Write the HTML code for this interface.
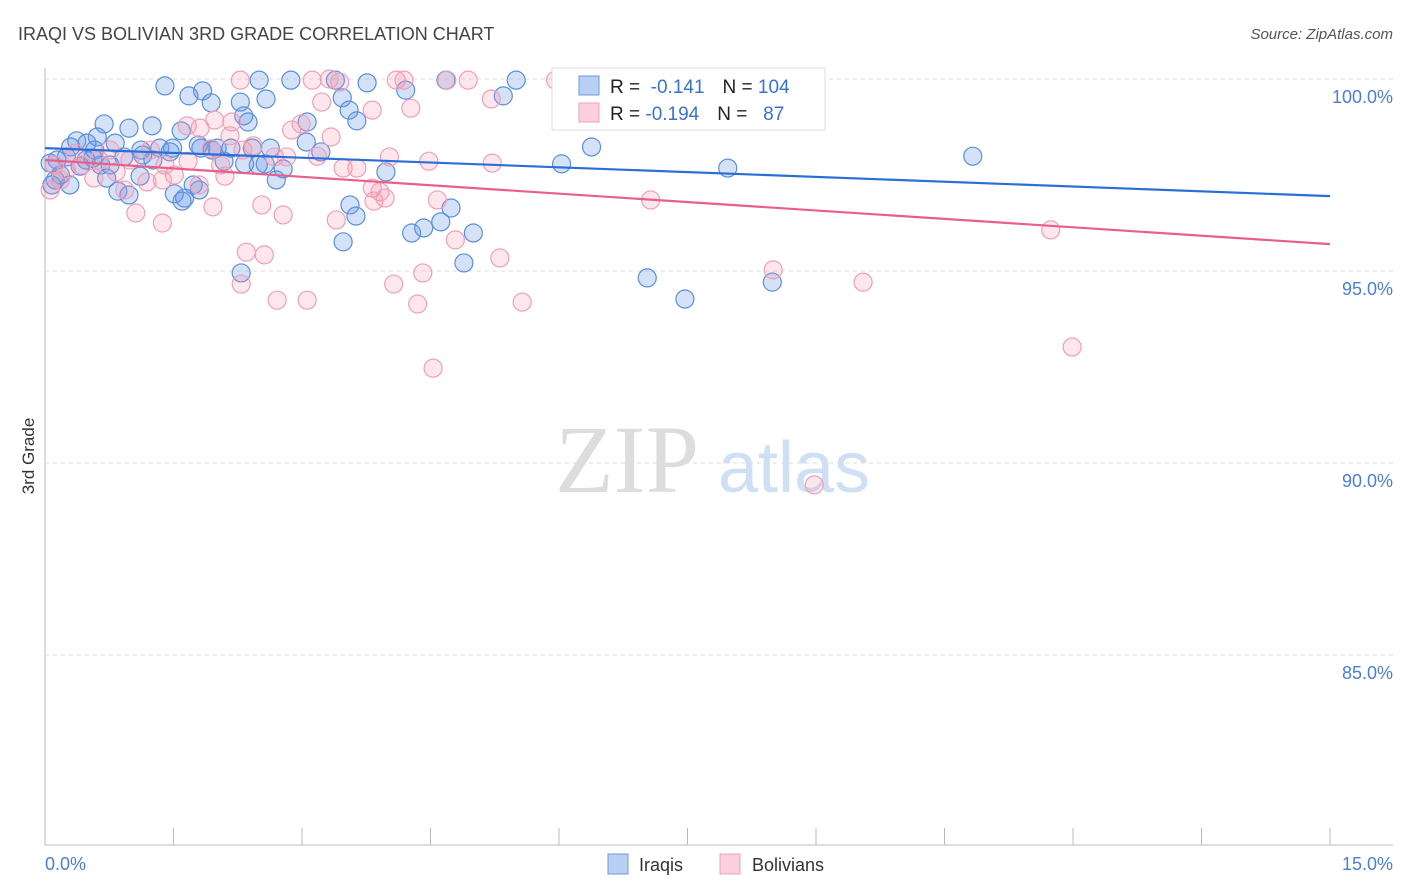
<!DOCTYPE html>
<html><head><meta charset="utf-8"><style>
body{margin:0;background:#fff;font-family:"Liberation Sans",sans-serif}
svg{display:block}
</style></head><body>
<svg id="c" width="1406" height="892" viewBox="0 0 1406 892">
<text x="18" y="40" font-size="18" fill="#444">IRAQI VS BOLIVIAN 3RD GRADE CORRELATION CHART</text>
<text x="1393" y="39" font-size="15" fill="#555" font-style="italic" text-anchor="end">Source: ZipAtlas.com</text>
<text x="555" y="492" font-size="96" fill="#ddd" font-family="Liberation Serif, serif">ZIP</text>
<text x="718" y="492" font-size="72" fill="#cfe0f5">atlas</text>
<text x="34" y="456" font-size="17" fill="#333" transform="rotate(-90 34 456)" text-anchor="middle">3rd Grade</text>
<g id="grid"></g><g id="pts"></g><g id="lines"></g>
<g>
<rect x="552" y="68" width="273" height="62" fill="#fff" stroke="#ddd"/>
<rect x="579" y="76" width="20" height="19" fill="rgba(100,150,230,0.45)" stroke="#6a9ae0"/>
<rect x="579" y="103" width="20" height="19" fill="rgba(245,150,180,0.45)" stroke="#f0a0b8"/>
<text x="610" y="93" font-size="19" fill="#222">R = <tspan fill="#3a72d0">&#160;-0.141</tspan><tspan dx="18">N = </tspan><tspan fill="#3a72d0">104</tspan></text>
<text x="610" y="120" font-size="19" fill="#222">R = <tspan fill="#3a72d0">-0.194</tspan><tspan dx="18">N = </tspan><tspan fill="#3a72d0">&#160;&#160;87</tspan></text>
</g>
<g>
<rect x="608" y="854" width="20" height="20" fill="rgba(100,150,230,0.45)" stroke="#6a9ae0"/>
<text x="639" y="871" font-size="18" fill="#333">Iraqis</text>
<rect x="720" y="854" width="20" height="20" fill="rgba(245,150,180,0.45)" stroke="#f0a0b8"/>
<text x="752" y="871" font-size="18" fill="#333">Bolivians</text>
</g>
</svg>
<script>
const yTicks=[100,95,90,85];
const xTickVals=[0,1.5,3,4.5,6,7.5,9,10.5,12,13.5,15];
const xLabels=["0.0%","15.0%"];
const iraqiX=[1.40,1.68,1.84,1.94,2.28,2.50,2.87,2.58,2.32,2.37,3.39,3.76,3.47,3.55,3.64,4.21,4.68,5.35,5.50,6.61,7.79,0.69,0.98,1.25,1.59,0.37,0.61,0.30,0.49,0.82,1.12,1.34,1.49,1.79,2.01,2.17,2.42,2.63,3.05,3.22,3.06,6.38,6.03,7.97,10.83,0.14,0.25,0.56,0.92,1.14,1.46,1.82,2.09,2.49,2.78,3.98,2.70,1.11,0.72,0.85,0.98,1.51,1.63,1.80,1.73,1.60,3.56,3.63,3.48,4.28,4.42,4.62,4.74,5.00,4.89,2.29,7.03,7.47,8.49,0.12,0.18,0.06,0.41,0.65,0.29,0.08,1.26,1.95,2.33,2.57,0.58,0.76,0.48];
const iraqiY=[99.82,99.56,99.69,99.38,99.40,99.97,99.97,99.48,99.04,98.88,99.97,99.90,99.51,99.19,98.91,99.71,99.97,99.56,99.97,99.97,99.97,98.83,98.72,98.78,98.65,98.39,98.49,98.23,98.33,98.33,98.15,98.20,98.20,98.28,98.20,98.20,98.20,98.20,98.36,98.10,98.88,98.23,97.79,97.68,97.99,97.89,97.97,97.94,97.97,98.02,98.10,98.20,97.86,97.76,97.66,97.58,97.37,97.47,97.42,97.08,96.98,97.01,96.90,97.11,97.24,96.82,96.72,96.43,95.76,95.99,96.12,96.28,96.64,95.99,95.21,94.95,94.82,94.27,94.71,97.37,97.50,97.81,97.73,97.76,97.24,97.24,97.89,98.15,97.79,97.79,98.15,97.76,97.89];
const bolX=[1.67,1.94,2.16,2.68,2.88,2.99,3.18,3.34,3.44,3.48,3.64,3.82,3.91,4.02,4.10,4.19,4.27,4.58,4.69,4.94,5.21,5.22,5.31,5.57,7.07,8.50,8.91,9.55,11.74,11.99,8.98,4.53,4.35,4.07,4.41,4.79,3.06,2.71,2.56,2.29,2.35,1.37,1.06,1.96,2.10,2.78,3.40,3.23,3.32,3.12,1.66,1.81,1.98,2.18,2.43,1.51,1.19,0.93,0.83,0.63,0.43,0.25,0.11,0.18,0.06,0.35,0.57,0.76,0.99,1.23,1.40,3.84,3.97,4.48,5.96,6.06,3.82,1.37,2.31,2.05,1.80,2.53,2.82,2.28];
const bolY=[97.86,98.18,98.52,97.97,98.67,98.83,97.99,98.49,99.92,97.68,97.68,97.16,97.06,97.97,99.97,99.97,99.24,96.85,99.97,99.97,99.48,97.81,95.34,94.19,96.85,95.03,99.79,94.71,96.07,93.02,89.43,92.47,94.14,94.66,94.95,95.81,94.24,94.24,95.42,94.66,95.49,96.25,96.51,96.67,97.47,96.46,96.33,99.40,100.0,99.97,98.78,98.72,98.93,98.88,98.26,97.50,97.32,97.11,97.58,97.89,97.76,97.63,97.76,97.37,97.11,98.07,97.42,98.15,97.89,98.15,97.76,96.82,96.90,97.86,99.97,99.87,99.19,97.37,98.15,97.76,97.24,96.72,97.97,99.97];
const iraqiTrend=[98.20,96.95];
const bolTrend=[97.89,95.70];
const NS="http://www.w3.org/2000/svg";
const X=v=>45+v/15*1285;
const Y=v=>79+(100-v)/5*192;
function mk(t,a,p){const e=document.createElementNS(NS,t);for(const k in a)e.setAttribute(k,a[k]);p.appendChild(e);return e;}
const g=document.getElementById('grid');
mk('line',{x1:45,y1:68,x2:45,y2:845,stroke:'#bbb'},g);
mk('line',{x1:45,y1:845,x2:1393,y2:845,stroke:'#bbb'},g);
yTicks.forEach(v=>{
 const l=mk('line',{x1:45,y1:Y(v),x2:1393,y2:Y(v),stroke:'#ddd','stroke-dasharray':'4 4'},g);
 
 
 const t=mk('text',{x:1393,y:Y(v)+24,'font-size':18,fill:'#4a7fd6','text-anchor':'end'},g);
 t.textContent=v.toFixed(1)+'%';
 
 
});
xTickVals.forEach(v=>{
 const l=mk('line',{x1:X(v),y1:828,x2:X(v),y2:845,stroke:'#bbb'},g);
 
 
});
const t0=mk('text',{x:45,y:870,'font-size':18,fill:'#4a7fd6'},g);t0.textContent=xLabels[0];


const t1=mk('text',{x:1393,y:870,'font-size':18,fill:'#4a7fd6','text-anchor':'end'},g);t1.textContent=xLabels[1];


const p=document.getElementById('pts');
iraqiX.forEach((x,i)=>{
 const c=mk('circle',{cx:X(x),cy:Y(iraqiY[i]),r:9,fill:'rgba(100,150,230,0.28)',stroke:'#5b8fdc','stroke-width':1.2},p);
 
 
});
bolX.forEach((x,i)=>{
 const c=mk('circle',{cx:X(x),cy:Y(bolY[i]),r:9,fill:'rgba(245,140,170,0.22)',stroke:'#efa0b8','stroke-width':1.2},p);
 
 
});
const L=document.getElementById('lines');
const a=mk('line',{x1:X(0),y1:Y(iraqiTrend[0]),x2:X(15),y2:Y(iraqiTrend[1]),stroke:'#2a6fd6','stroke-width':2.2},L);


const b=mk('line',{x1:X(0),y1:Y(bolTrend[0]),x2:X(15),y2:Y(bolTrend[1]),stroke:'#e8608a','stroke-width':2.2},L);


</script>
</body></html>
